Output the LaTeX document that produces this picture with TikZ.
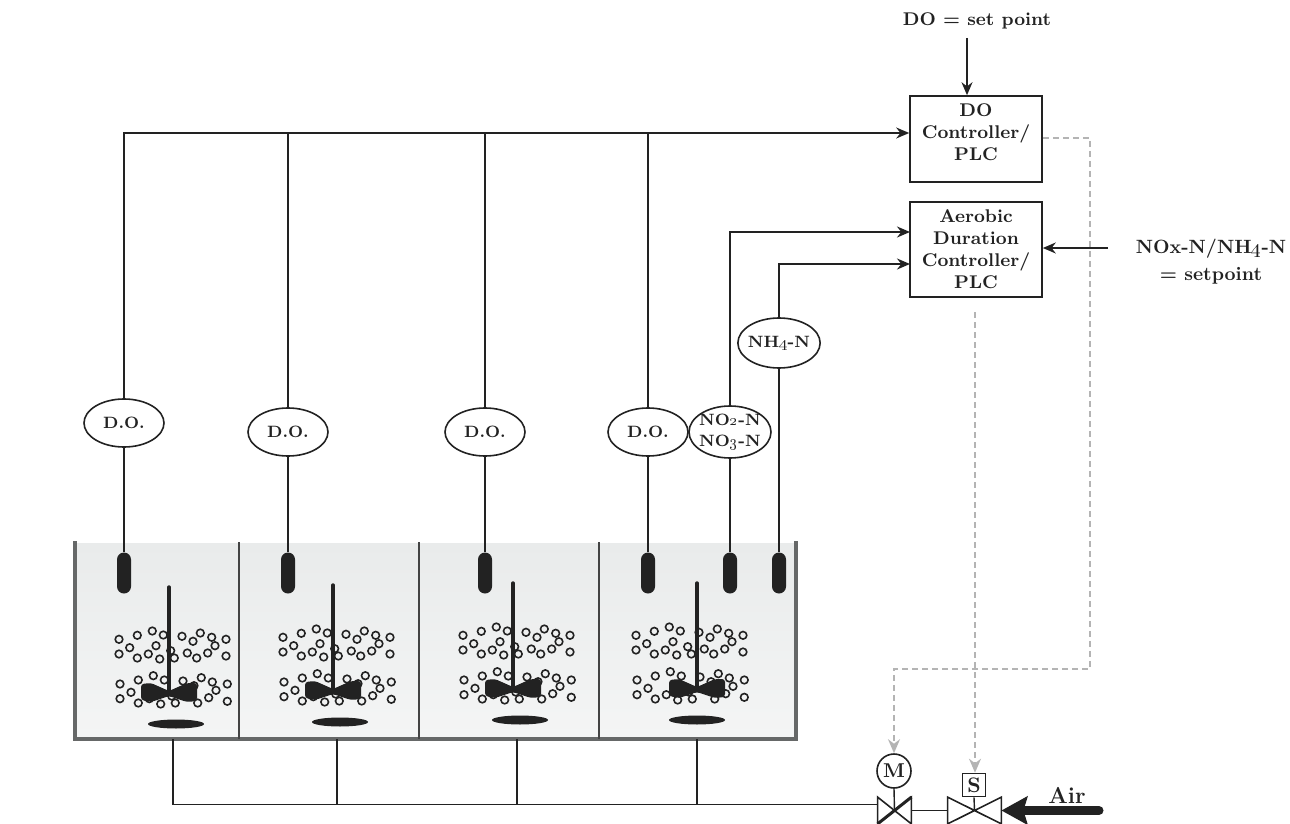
\documentclass[tikz,border=0pt]{standalone}
\usepackage{tikz}
\usetikzlibrary{calc,positioning,arrows.meta,shapes.geometric}
\usepackage{xcolor}
\definecolor{lineblack}{HTML}{222222}
\definecolor{wallgray}{HTML}{666868}
\definecolor{signalgray}{HTML}{B4B4B4}
\definecolor{watertop}{HTML}{E9EBEB}
\definecolor{waterbot}{HTML}{F4F5F5}

\begin{document}
\begin{tikzpicture}[
  x=0.5pt,y=-0.5pt,
  >={Stealth[length=6.5pt,width=5.5pt]},
  every node/.style={font=\bfseries\fontsize{9.2}{11}\selectfont,text=lineblack},
  ctrlbox/.style={draw=lineblack,line width=0.8pt,fill=white,minimum width=66pt,align=center,inner sep=0pt},
  probe/.style={ellipse,draw=lineblack,line width=0.8pt,fill=white,minimum width=40pt,minimum height=24pt,inner xsep=0pt,inner ysep=-1.5pt,align=center,font=\bfseries\fontsize{8.2}{10.5}\selectfont},
  sensor/.style={fill=lineblack,rounded corners=3.5pt,minimum width=7pt,minimum height=20.5pt,inner sep=0pt},
  valvebox/.style={minimum width=16.5pt,minimum height=13pt,inner sep=0pt},
  wire/.style={draw=lineblack,line width=0.7pt},
  flow/.style={->,draw=lineblack,line width=0.7pt},
  signal/.style={->,draw=signalgray,line width=0.8pt,densely dashed,>={Stealth[length=7pt,width=6pt]}},
]
\useasboundingbox (0,0) rectangle (1290,824);

% tanks
\shade[top color=watertop,bottom color=waterbot] (75,543) rectangle (796,738);
\draw[wallgray,line width=2pt] (75,541) -- (75,739) -- (796,739) -- (796,541);
\foreach \wallx in {239,419,599}
  \draw[lineblack!85,line width=1pt] (\wallx,542) -- (\wallx,739);

% mixers and bubbles
\foreach \shaftx/\shafty/\bubx/\diskx in {169/587/169/176,333/585/333/340,513/583/513/520,697/583/686/697}{
  \foreach \bx/\by in {-50/52.3,-31.7/48.3,-16.7/44,-5.7/48,13/49.3,24/54.3,31.3/46,42.7/50.3,57/52.3,46/58.7,
    -50/67,-39.3/60.7,-31.7/71,-20.7/67,-13/58.7,-9.3/72,1.7/63.7,5.3/71,18.3/66,27.7/71,38.7/66,57/69,
    -49/97,-30.7/93,-15.7/88.7,-4.7/93,14/94,25/98.7,32.3/90.7,43.3/95,58.3/97,47/103.3,
    -49/111.7,-38/105.3,-30.7/116,-19.7/111.7,-8.3/117,2.7/109,6.3/116,28.7/116,39.7/110.7,58.3/114.3}
    \draw[lineblack,line width=0.8pt] (\bubx+\bx,\shafty+\by) circle[radius=1.9pt];
  \draw[lineblack,line width=1.7pt,line cap=round] (\shaftx,\shafty) -- (\shaftx,\shafty+106);
  \fill[lineblack,rounded corners=1.5pt] (\shaftx-28,\shafty+97) -- (\shaftx-18,\shafty+96) -- (\shaftx,\shafty+104)
    -- (\shaftx+18,\shafty+96) -- (\shaftx+28,\shafty+96) -- (\shaftx+28,\shafty+114) -- (\shaftx+18,\shafty+115)
    -- (\shaftx,\shafty+109) -- (\shaftx-18,\shafty+115) -- (\shaftx-28,\shafty+113) -- cycle;
  \fill[lineblack] (\diskx,\shafty+137) ellipse[x radius=28,y radius=4.5];
}

% sensors
\node[sensor] (s1) at (124,573) {};
\node[sensor] (s2) at (288,573) {};
\node[sensor] (s3) at (485,573) {};
\node[sensor] (s4) at (648,573) {};
\node[sensor] (s5) at (730,573) {};
\node[sensor] (s6) at (779,573) {};

\node[probe] (do1) at (124,423) {D.O.};
\node[probe] (do2) at (288,432) {D.O.};
\node[probe] (do3) at (485,432) {D.O.};
\node[probe] (do4) at (648,432) {D.O.};
\node[probe,inner xsep=-1pt,minimum width=41pt,minimum height=26pt] (nox) at (730,432) {NO\oldstylenums{2}-N\\NO\oldstylenums{3}-N};
\node[probe,inner xsep=-1pt,minimum width=41pt,minimum height=25pt] (nh4) at (779,343) {NH\oldstylenums{4}-N};

\node[ctrlbox,minimum height=43pt] (doctrl) at (976,139) {DO\\Controller/\\PLC\\[-7pt]\strut};
\node[ctrlbox,minimum height=47.5pt] (aerctrl) at (976,249.5) {Aerobic\\Duration\\Controller/\\PLC};

\node (doset) at (977,21) {DO = set point};
\node[align=center,font=\bfseries\fontsize{9.6}{11}\selectfont] (noxset) at (1211,262) {NOx-N/NH\oldstylenums{4}-N\\[2.5pt]= setpoint};

\draw[wire] (s1) -- (do1);
\draw[wire] (s2) -- (do2);
\draw[wire] (s3) -- (do3);
\draw[wire] (s4) -- (do4);
\draw[wire] (s5) -- (nox);
\draw[wire] (s6) -- (nh4);

\coordinate (bus) at (124,133);
\draw[flow] (do1.north) |- (bus -| doctrl.west);
\draw[wire] (do2.north) -- (do2.north |- bus);
\draw[wire] (do3.north) -- (do3.north |- bus);
\draw[wire] (do4.north) -- (do4.north |- bus);
\coordinate (noxin) at (910,232);
\coordinate (nh4in) at (910,264);
\draw[flow] (nox.north) |- (noxin);
\draw[flow] (nh4.north) |- (nh4in);
\coordinate (dotail) at (967,38);
\draw[flow] (dotail) -- (dotail |- doctrl.north);
\coordinate (noxtail) at (1108,248);
\draw[flow] (noxtail) -- (noxtail -| aerctrl.east);

% valves
\node[valvebox] (valveM) at (894.5,810.5) {};
\node[valvebox,minimum width=26.5pt] (valveS) at (974.5,810.5) {};
\node[circle,draw=lineblack,line width=0.8pt,fill=white,minimum size=17pt,inner sep=0pt,font=\bfseries\fontsize{10}{12}\selectfont] (motor) at (894,771) {M};
\node[draw=lineblack,line width=0.8pt,fill=white,minimum size=11.5pt,inner sep=0pt,font=\bfseries\fontsize{10.5}{12}\selectfont] (solenoid) at (974,785) {S};

\draw[wire,line width=0.8pt] (valveM.north west) -- (valveM.south east) -- (valveM.north east) -- (valveM.south west) -- cycle;
\draw[lineblack,line width=1.5pt] (valveM.south west) -- (valveM.north east);
\draw[wire,line width=0.8pt] (valveS.north west) -- (valveS.south east) -- (valveS.north east) -- (valveS.south west) -- cycle;
\draw[wire] (motor.south) -- (valveM.center);
\draw[wire] (solenoid.south) -- (valveS.center);
\draw[wire] (valveM.east) -- (valveS.west);

% air pipe
\coordinate (pipeend) at ([yshift=3pt]valveM.west);
\draw[wire] (173,739) |- (pipeend);
\draw[wire] (337,739) -- (337,804);
\draw[wire] (517,739) -- (517,804);
\draw[wire] (697,739) -- (697,804);

\coordinate (airtail) at (1099,810.5);
\draw[->,draw=lineblack,line width=4.5pt,line cap=round,>={Stealth[length=13pt,width=14pt,inset=2pt]}] (airtail) -- (valveS.east);
\node[font=\bfseries\fontsize{11.5}{13}\selectfont] (air) at (1067,795) {Air};

% signals
\coordinate (loopa) at (1090,138);
\coordinate (loopb) at (1090,669);
\coordinate (loopc) at (894,669);
\draw[signal] (doctrl.east |- loopa) -- (loopa) -- (loopb) -- (loopc) -- (motor.north);
\coordinate (aertail) at (975,312);
\draw[signal] (aertail) -- (aertail |- solenoid.north);
\end{tikzpicture}
\end{document}
